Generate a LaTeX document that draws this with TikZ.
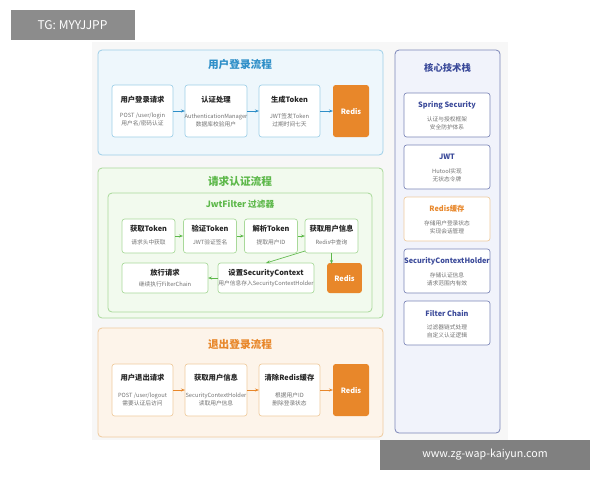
\documentclass[tikz,border=0pt]{standalone}
\usepackage{fontspec}
\setmainfont{Noto Sans CJK SC}
\usetikzlibrary{arrows.meta}
\definecolor{bl}{HTML}{2F8FC8}\definecolor{blf}{HTML}{EEF7FC}\definecolor{bld}{HTML}{9ECFE8}
\definecolor{gr}{HTML}{5DB84A}\definecolor{grf}{HTML}{F2FAEE}\definecolor{grd}{HTML}{A9D99A}
\definecolor{or}{HTML}{E8872A}\definecolor{orf}{HTML}{FDF4EA}\definecolor{ord}{HTML}{EFCB9E}
\definecolor{nv}{HTML}{3B4A9A}\definecolor{nvf}{HTML}{F1F3FB}\definecolor{nvd}{HTML}{7C86B8}
\tikzset{
 panel/.style={draw=#1,rounded corners=3pt,line width=0.6pt},
 box/.style={draw=#1,fill=white,rounded corners=2pt,line width=0.5pt},
 rd/.style={fill=or,rounded corners=2pt,text=white,font=\fontsize{5.5}{6}\selectfont\bfseries},
 tt/.style={font=\fontsize{5.5}{6}\selectfont\bfseries,text=black!85},
 st/.style={font=\fontsize{4.3}{6}\selectfont,text=black!55,align=center},
 ar/.style={-{Stealth[length=3pt]},line width=0.5pt,draw=#1},
}
\begin{document}
\begin{tikzpicture}[x=0.75pt,y=-0.75pt]
\useasboundingbox (0,0) rectangle (600,480);
\fill[white] (0,0) rectangle (600,480);
\fill[black!3] (92,42) rectangle (508,440);
% watermark
\node[fill=black!45,text=white,inner sep=0pt,minimum height=22.5pt,minimum width=93pt,font=\fontsize{9}{10}\selectfont] (wm1) at (72.5,25) {TG: MYYJJPP};
% login panel
\draw[panel=bld,fill=blf] (98,50) rectangle (383,155);
\node[text=bl,font=\fontsize{8}{9}\selectfont\bfseries] (t1) at (240,64) {用户登录流程};
\draw[box=bld] (112,85) rectangle (173,137);
\node[tt] (a1t) at (142.5,100) {用户登录请求}; \node[st] (a1s) at (142.5,120) {POST /user/login\\用户名/密码认证};
\draw[box=bld] (185,85) rectangle (247,137);
\node[tt] (a2t) at (216,100) {认证处理}; \node[st] (a2s) at (216,120) {AuthenticationManager\\数据库校验用户};
\draw[box=bld] (259,85) rectangle (320,137);
\node[tt] (a3t) at (289.5,100) {生成Token}; \node[st] (a3s) at (289.5,120) {JWT签发Token\\过期时间七天};
\node[rd,minimum width=27pt,minimum height=39pt] (a4) at (351,111) {Redis};
\draw[ar=bl] (173,111)--(185,111); \draw[ar=bl] (247,111)--(259,111); \draw[ar=bl] (320,111)--(333,111);
% request panel
\draw[panel=grd,fill=grf] (98,168) rectangle (383,318);
\node[text=gr,font=\fontsize{8}{9}\selectfont\bfseries] (t2) at (240,181) {请求认证流程};
\draw[panel=grd,fill=grf] (108,193) rectangle (372,312);
\node[text=gr,font=\fontsize{6.5}{7}\selectfont\bfseries] (t3) at (240,204) {JwtFilter 过滤器};
\foreach \x/\a/\b [count=\i] in {148.5/获取Token/请求头中获取,210/验证Token/JWT验证签名,271/解析Token/提取用户ID,331.5/获取用户信息/Redis中查询}{
 \draw[box=grd] (\x-26.5,219) rectangle (\x+26.5,253);
 \node[tt] (r\i t) at (\x,229) {\a}; \node[st] (r\i s) at (\x,242) {\b};}
\draw[ar=gr] (175,236)--(183,236); \draw[ar=gr] (237,236)--(244,236); \draw[ar=gr] (298,236)--(305,236);
\draw[box=grd] (122,263) rectangle (208,293);
\node[tt] (s1t) at (165,273) {放行请求}; \node[st] (s1s) at (165,284) {继续执行FilterChain};
\draw[box=grd] (218,263) rectangle (314,293);
\node[tt] (s2t) at (266,273) {设置SecurityContext}; \node[st] (s2s) at (266,284) {用户信息存入SecurityContextHolder};
\node[rd,minimum width=26pt,minimum height=22.5pt] (rr) at (344.5,278) {Redis};
\draw[ar=gr] (305,251)--(266,263);
\draw[ar=gr] (331.5,253)--(331.5,264);
\draw[ar=gr] (218,278)--(208,278);
% logout panel
\draw[panel=ord,fill=orf] (98,328) rectangle (383,437);
\node[text=or,font=\fontsize{8}{9}\selectfont\bfseries] (t4) at (240,344) {退出登录流程};
\draw[box=ord] (112,364) rectangle (173,416);
\node[tt] (b1t) at (142.5,378) {用户退出请求}; \node[st] (b1s) at (142.5,399) {POST /user/logout\\需要认证后访问};
\draw[box=ord] (185,364) rectangle (247,416);
\node[tt] (b2t) at (216,378) {获取用户信息}; \node[st] (b2s) at (216,399) {SecurityContextHolder\\读取用户信息};
\draw[box=ord] (259,364) rectangle (320,416);
\node[tt] (b3t) at (289.5,378) {清除Redis缓存}; \node[st] (b3s) at (289.5,399) {根据用户ID\\删除登录状态};
\node[rd,minimum width=27pt,minimum height=39pt] (b4) at (351,390) {Redis};
\draw[ar=or] (173,390)--(185,390); \draw[ar=or] (247,390)--(259,390); \draw[ar=or] (320,390)--(333,390);
% right panel
\draw[panel=nvd,fill=nvf] (395,50) rectangle (500,433);
\node[text=nv,font=\fontsize{7}{8}\selectfont\bfseries] (t5) at (447.5,68) {核心技术栈};
\foreach \y/\a/\b/\c/\f/\tc [count=\i] in {115/Spring Security/认证与授权框架/安全防护体系/nvd/nv,167/JWT/Hutool实现/无状态令牌/nvd/nv,219/Redis缓存/存储用户登录状态/实现会话管理/ord/or,271/SecurityContextHolder/存储认证信息/请求范围内有效/nvd/nv,323/Filter Chain/过滤器链式处理/自定义认证逻辑/nvd/nv}{
 \draw[box=\f] (404,\y-22) rectangle (490,\y+22);
 \node[font=\fontsize{5.5}{6}\selectfont\bfseries,text=\tc] (k\i t) at (447,\y-10) {\a};
 \node[st] (k\i s) at (447,\y+8) {\b\\\c};}
\node[fill=black!50,text=white,minimum width=158pt,minimum height=22.5pt,font=\fontsize{8}{10}\selectfont] (wm2) at (485,455) {www.zg-wap-kaiyun.com};
\end{tikzpicture}
\end{document}
